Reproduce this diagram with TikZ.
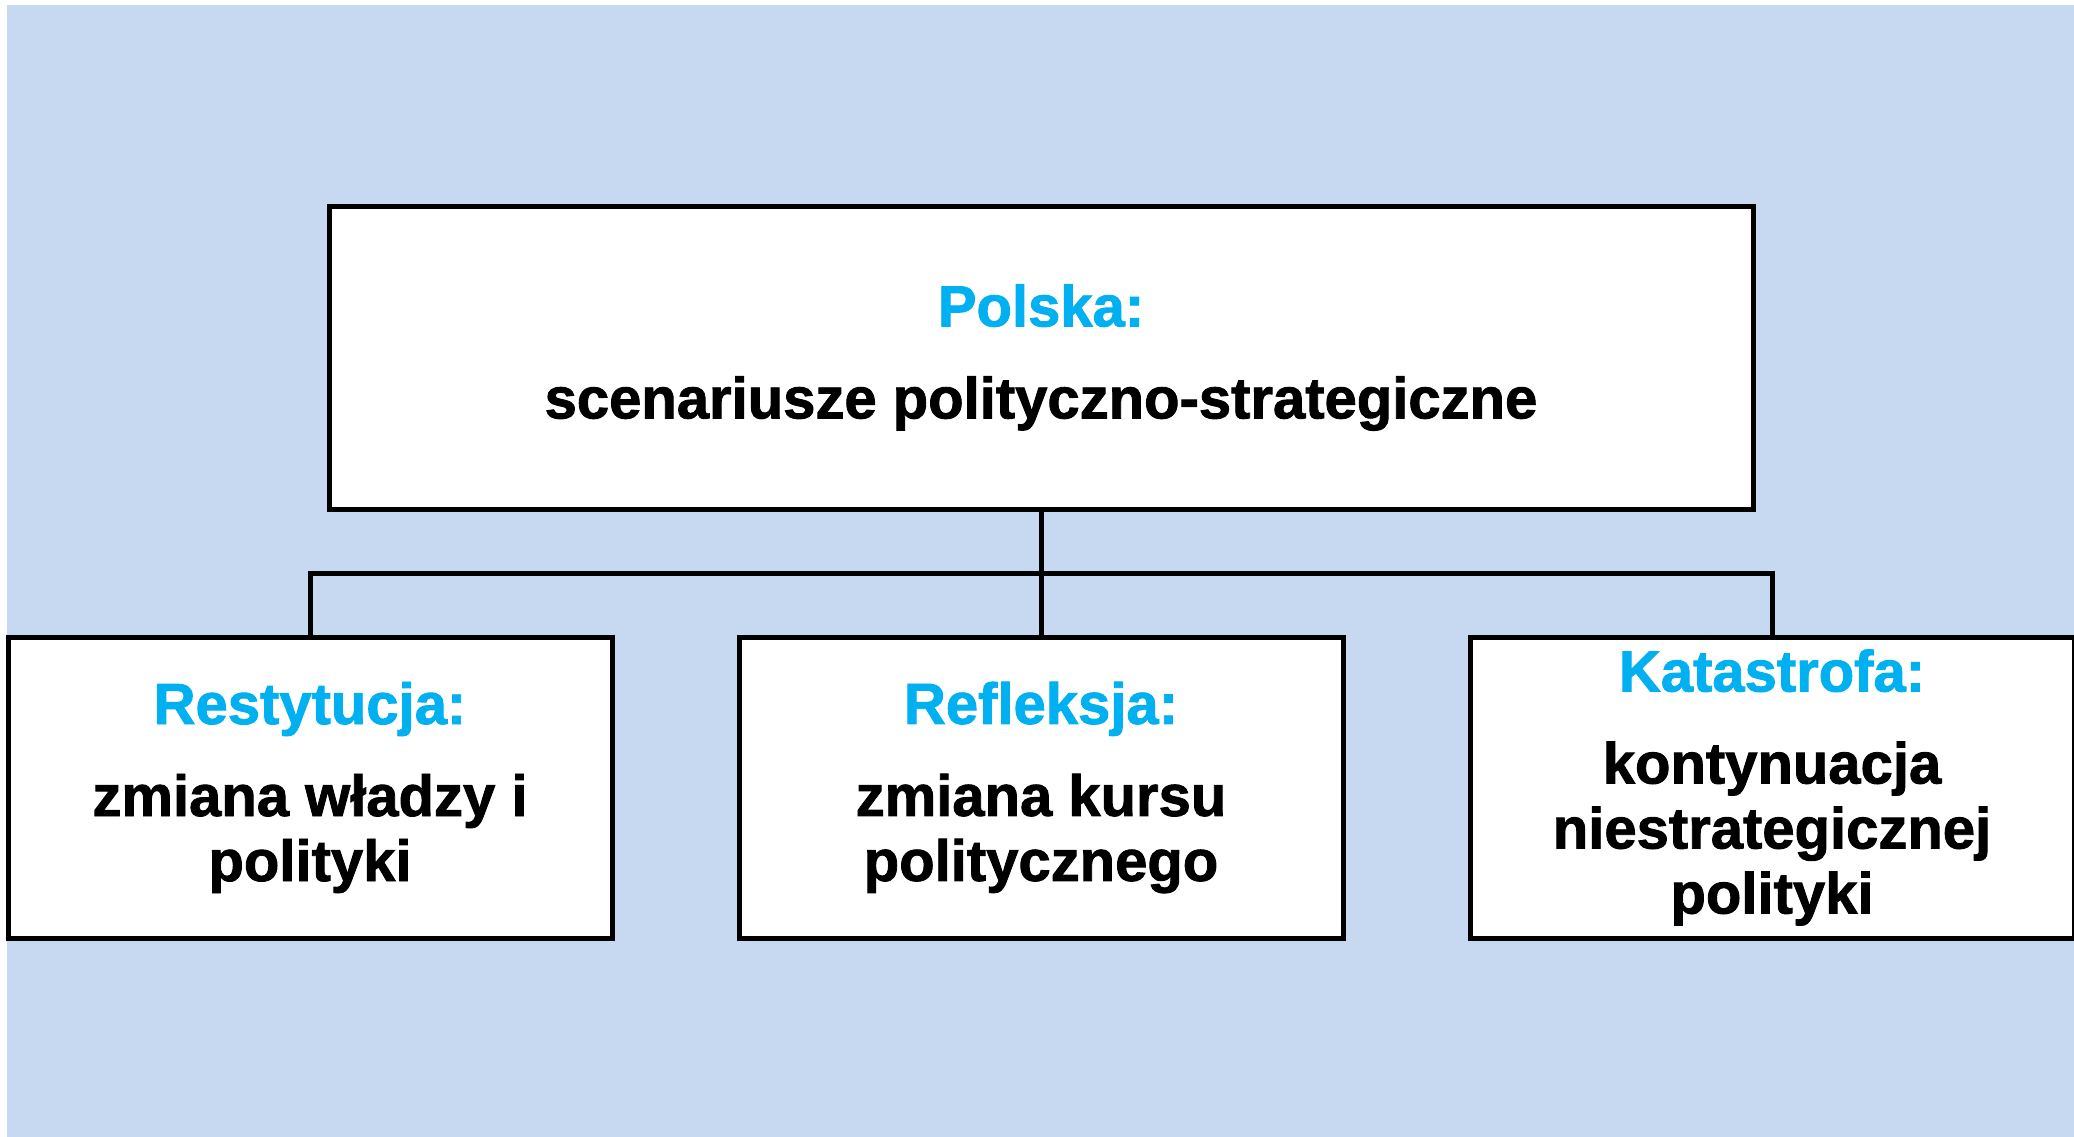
\documentclass[tikz,border=0pt]{standalone}
\usepackage{fontspec}
\setmainfont{Liberation Sans}[BoldFeatures={FakeBold=1.5}]
\usetikzlibrary{positioning}
\definecolor{tlo}{HTML}{C6D9F0}
\definecolor{tytul}{HTML}{00B0F0}
\newcommand{\naglowek}[1]{\textcolor{tytul}{#1}\\[27pt]}
\tikzset{
  basic/.style  = {draw, line width=5pt, fill=white, rectangle, align=center, inner sep=0pt,
                   outer sep=0pt, font=\bfseries\fontsize{58}{65}\selectfont},
  szczyt/.style = {basic, minimum width=1424pt, minimum height=303pt},
  scenariusz/.style = {basic, minimum width=604pt, minimum height=301pt}
}

\begin{document}
\begin{tikzpicture}[x=1pt,y=1pt,node distance=127pt]
\useasboundingbox (0,0) rectangle (2074,-1137);
\fill[tlo] (7,-5) rectangle (2074,-1137);

\node[scenariusz] (restytucja) at (310,-787.5) {\naglowek{Restytucja:}zmiana władzy i\\polityki};
\node[scenariusz, right=of restytucja] (refleksja) {\naglowek{Refleksja:}zmiana kursu\\politycznego};
\node[scenariusz, right=of refleksja] (katastrofa) {\naglowek{Katastrofa:}kontynuacja\\niestrategicznej\\polityki};
\node[szczyt, above=128pt of refleksja] (polska) {\naglowek{Polska:}scenariusze polityczno-strategiczne};

% connectors
\draw[line width=5pt] (polska.south) -- (refleksja.north);
\draw[line width=5pt] (restytucja.north) -- ++(0,64) -| (katastrofa.north);
\end{tikzpicture}
\end{document}
